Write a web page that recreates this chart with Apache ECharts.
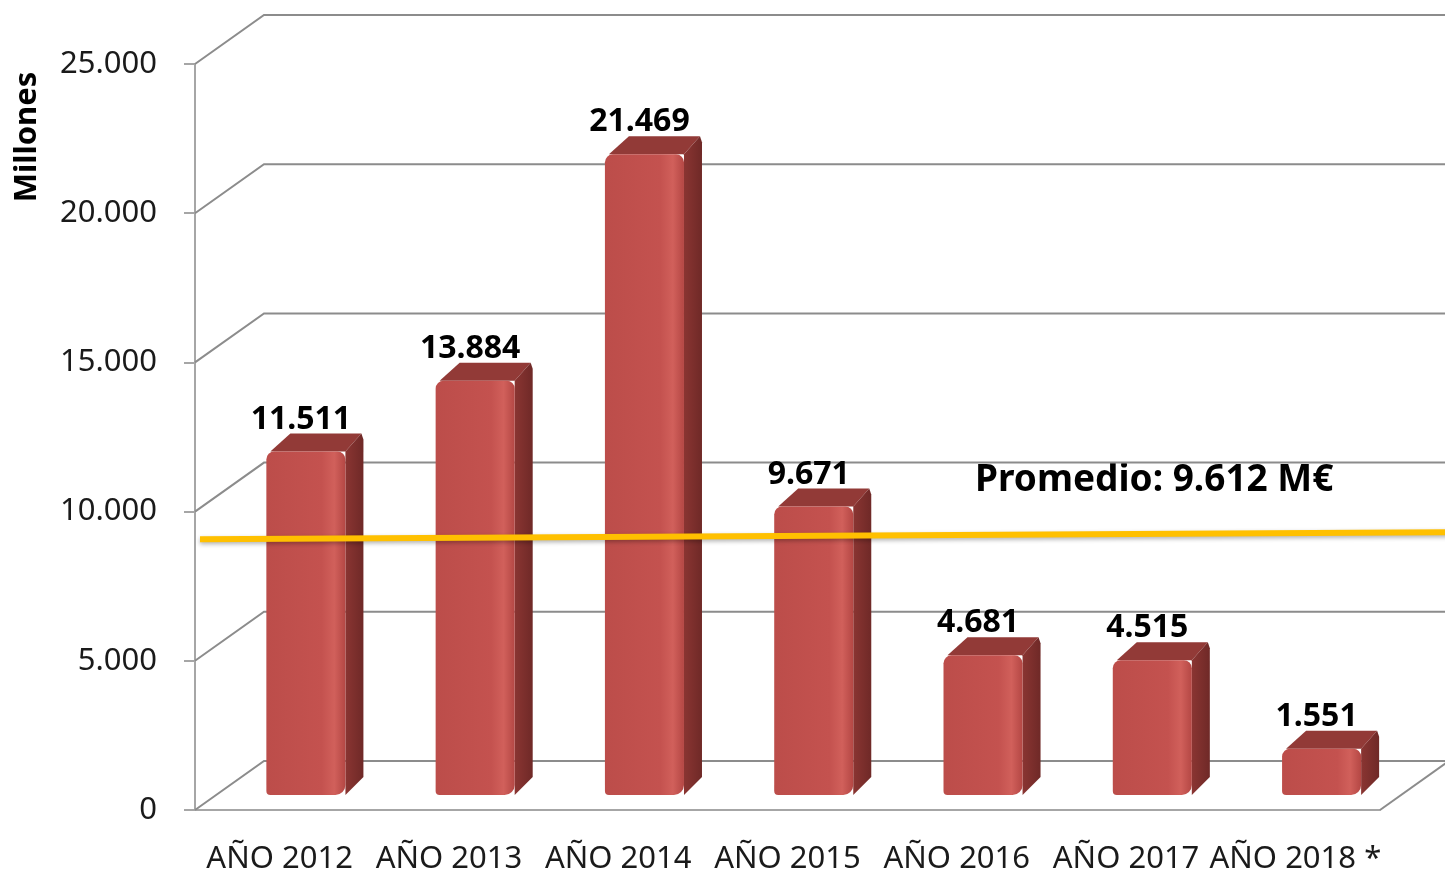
<!DOCTYPE html>
<html>
<head>
<meta charset="utf-8">
<script src="https://cdn.jsdelivr.net/npm/echarts@6.0.0/dist/echarts.min.js"></script>
<style>
  html, body { margin: 0; background: #fff; }
  #main { width: 1445px; height: 871px; }
</style>
</head>
<body>
<div id="main"></div>
<script>
// datos
const anios = ['AÑO 2012', 'AÑO 2013', 'AÑO 2014', 'AÑO 2015', 'AÑO 2016', 'AÑO 2017', 'AÑO 2018 *'];
const millones = [11511, 13884, 21469, 9671, 4681, 4515, 1551];
const ticksY = [0, 5000, 10000, 15000, 20000, 25000];
const promedio = [9612];

// profundidad de la pared del fondo (efecto 3D)
const DX = 69, DY = -49;
const FONT = '"Noto Sans", "Open Sans", sans-serif';

function miles(v) {
  if (v < 1000) return String(v);
  return Math.floor(v / 1000) + '.' + String(v % 1000).padStart(3, '0');
}

const chart = echarts.init(document.getElementById('main'));

chart.setOption({
  animation: false,
  backgroundColor: '#fff',
  grid: { left: 195, right: 65, top: 64, bottom: 61, outerBoundsMode: 'none' },
  xAxis: {
    type: 'category',
    data: anios,
    axisLine: { lineStyle: { color: '#a6a6a6', width: 2 } },
    axisTick: { length: 10, lineStyle: { color: '#a6a6a6', width: 2 } },
    axisLabel: { interval: 0, fontFamily: FONT, fontSize: 31, color: '#1a1a1a', margin: 34 }
  },
  yAxis: {
    type: 'value',
    min: 0,
    max: 25000,
    interval: 5000,
    axisLine: { show: true, lineStyle: { color: '#a6a6a6', width: 2 } },
    axisTick: { show: true, length: 11, lineStyle: { color: '#a6a6a6', width: 2 } },
    splitLine: { show: false },
    axisLabel: { formatter: miles, fontFamily: FONT, fontSize: 31, color: '#1a1a1a', margin: 38 }
  },
  graphic: [
    {
      type: 'text', x: 27, y: 137, rotation: Math.PI / 2,
      style: { text: 'Millones', font: 'bold 31px ' + FONT, fill: '#000', align: 'center', verticalAlign: 'middle' }
    },
    {
      type: 'text', left: 975, top: 462,
      style: { text: 'Promedio: ' + miles(promedio[0]) + ' M€', font: 'bold 37px ' + FONT, fill: '#000' }
    }
  ],
  series: [
    {
      // pared del fondo y laterales
      type: 'custom',
      z: 1,
      silent: true,
      clip: false,
      data: ticksY.map(v => [0, v]),
      renderItem(params, api) {
        const cs = params.coordSys;
        const v = api.value(1);
        const y = api.coord([0, v])[1];
        const style = { stroke: '#8c8c8c', lineWidth: 2, fill: null };
        const children = [{
          type: 'polyline',
          shape: { points: [[cs.x, y], [cs.x + DX, y + DY], [cs.x + cs.width + DX + 10, y + DY]] },
          style
        }];
        if (v === 0) {
          children.push({
            type: 'line',
            shape: { x1: cs.x + cs.width, y1: y, x2: cs.x + cs.width + DX, y2: y + DY },
            style
          });
        }
        return { type: 'group', children };
      }
    },
    {
      // columnas
      type: 'custom',
      z: 3,
      clip: false,
      data: millones.map((v, i) => [i, v]),
      renderItem(params, api) {
        const i = api.value(0), v = api.value(1);
        const top = api.coord([i, v]);
        const base = api.coord([i, 0]);
        const band = api.size([1, 0])[0];
        const w = band * 0.467;
        const cx = top[0] + band * 0.155;
        const x0 = cx - w / 2, x1 = cx + w / 2;
        const yt = top[1] - 15, yb = base[1] - 15;
        const dx = 18, dy = -18;
        return {
          type: 'group',
          children: [
            {
              type: 'polygon',
              shape: { points: [[x0 + 4, yt], [x0 + dx + 6, yt + dy], [x1 + dx - 2, yt + dy], [x1, yt]] },
              style: { fill: '#923a37' }
            },
            {
              type: 'polygon',
              shape: { points: [[x1, yt], [x1 + dx - 2, yt + dy], [x1 + dx, yt + dy + 6], [x1 + dx, yb + dy], [x1, yb]] },
              style: {
                fill: new echarts.graphic.LinearGradient(0, 0, 1, 0, [
                  { offset: 0, color: '#8a3532' },
                  { offset: 1, color: '#6f2927' }
                ])
              }
            },
            {
              type: 'rect',
              shape: { x: x0, y: yt, width: w, height: yb - yt, r: [8, 8, 10, 4] },
              style: {
                fill: new echarts.graphic.LinearGradient(0, 0, 1, 0, [
                  { offset: 0, color: '#bc4d4a' },
                  { offset: 0.7, color: '#c4524f' },
                  { offset: 0.86, color: '#d1605b' },
                  { offset: 1, color: '#b44744' }
                ])
              }
            },
            {
              type: 'text',
              x: cx - 5,
              y: yt + dy + 2,
              style: { text: miles(v), font: 'bold 32px ' + FONT, fill: '#000', align: 'center', verticalAlign: 'bottom' }
            }
          ]
        };
      }
    },
    {
      // línea de promedio
      type: 'custom',
      z: 5,
      silent: true,
      clip: false,
      data: promedio.map(v => [0, v]),
      renderItem(params, api) {
        const cs = params.coordSys;
        const y = api.coord([0, api.value(1)])[1];
        return {
          type: 'line',
          shape: { x1: cs.x + 5, y1: y + 16, x2: cs.x + cs.width + DX, y2: y + 9 },
          style: {
            stroke: '#ffc000', lineWidth: 6,
            shadowBlur: 4, shadowOffsetY: 2, shadowColor: 'rgba(0,0,0,0.3)'
          }
        };
      }
    }
  ]
});
</script>
</body>
</html>
